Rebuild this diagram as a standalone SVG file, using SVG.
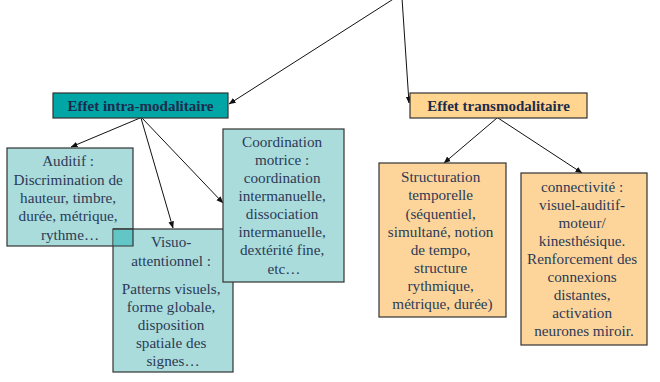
<svg xmlns="http://www.w3.org/2000/svg" width="660" height="382" viewBox="0 0 660 382">
  <defs>
    <marker id="arrow" viewBox="0 0 8 8" refX="7.5" refY="4" markerWidth="7" markerHeight="7" markerUnits="userSpaceOnUse" orient="auto">
      <path d="M0,0.8 L8,4 L0,7.2 Z" fill="#111"/>
    </marker>
  </defs>
  <style>
    .hdr-teal { fill: #00a5a6; stroke: #333; stroke-width: 1.2; }
    .hdr-orange { fill: #ffd590; stroke: #333; stroke-width: 1.2; }
    .box-teal { fill: #aadcdc; stroke: #333; stroke-width: 1.2; }
    .box-orange { fill: #fdd59a; stroke: #333; stroke-width: 1.2; }
    .hdr-text { font-family: "Liberation Serif", "Times New Roman", serif; font-weight: bold; font-size: 15px; fill: #1d2b4c; text-anchor: middle; }
    .body-text { font-family: "Liberation Serif", "Times New Roman", serif; font-size: 15.2px; fill: #2c3a56; text-anchor: middle; }
    .conn { stroke: #111; stroke-width: 1; fill: none; marker-end: url(#arrow); }
  </style>

  <!-- connectors -->
  <g id="connectors">
    <line class="conn" x1="395" y1="-2" x2="229" y2="104"/>
    <line class="conn" x1="402" y1="-2" x2="409" y2="103"/>
    <line class="conn" x1="140" y1="118" x2="71" y2="147"/>
    <line class="conn" x1="141" y1="118" x2="173" y2="228"/>
    <line class="conn" x1="142" y1="118" x2="223" y2="203"/>
    <line class="conn" x1="497" y1="118" x2="444" y2="163"/>
    <line class="conn" x1="498" y1="118" x2="582" y2="173"/>
  </g>

  <!-- header nodes -->
  <g id="intra">
    <rect class="hdr-teal" x="53" y="93" width="175" height="25"/>
    <text class="hdr-text" x="140.5" y="110.5">Effet intra-modalitaire</text>
  </g>
  <g id="trans">
    <rect class="hdr-orange" x="410" y="93" width="177" height="25"/>
    <text class="hdr-text" x="498.5" y="110.5">Effet transmodalitaire</text>
  </g>

  <!-- intra-modal branches -->
  <g id="auditif">
    <rect class="box-teal" x="7" y="148" width="126" height="98"/>
    <text class="body-text" x="70">
      <tspan x="70" y="166">Auditif :</tspan>
      <tspan x="70" y="185">Discrimination de</tspan>
      <tspan x="70" y="203">hauteur, timbre,</tspan>
      <tspan x="70" y="221">durée, métrique,</tspan>
      <tspan x="70" y="240">rythme…</tspan>
    </text>
  </g>

  <g id="visuo">
    <rect class="box-teal" x="113" y="229" width="120" height="143"/>
    <!-- darker area where the two boxes overlap, with the hidden borders showing through -->
    <rect x="113.6" y="229.6" width="19.4" height="16.4" fill="#62c6c6"/>
    <polyline points="133,229 133,246 113,246" fill="none" stroke="#333" stroke-width="1.2"/>
    <line x1="113" y1="229" x2="133" y2="229" stroke="#333" stroke-width="1.2"/>
    <text class="body-text">
      <tspan x="173" y="247">Visuo-</tspan>
      <tspan x="173" y="266">attentionnel :</tspan>
      <tspan x="173" y="294">Patterns visuels,</tspan>
      <tspan x="173" y="312">forme globale,</tspan>
      <tspan x="173" y="330">disposition</tspan>
      <tspan x="173" y="348">spatiale des</tspan>
      <tspan x="173" y="366">signes…</tspan>
    </text>
  </g>

  <g id="coordination">
    <rect class="box-teal" x="223" y="129" width="121" height="153"/>
    <text class="body-text">
      <tspan x="284" y="147">Coordination</tspan>
      <tspan x="284" y="165">motrice :</tspan>
      <tspan x="284" y="183">coordination</tspan>
      <tspan x="284" y="201">intermanuelle,</tspan>
      <tspan x="284" y="219">dissociation</tspan>
      <tspan x="284" y="237">intermanuelle,</tspan>
      <tspan x="284" y="255">dextérité fine,</tspan>
      <tspan x="284" y="274">etc…</tspan>
    </text>
  </g>

  <!-- cross-modal branches -->
  <g id="structuration">
    <rect class="box-orange" x="379" y="163" width="127" height="154"/>
    <text class="body-text">
      <tspan x="442.5" y="182">Structuration</tspan>
      <tspan x="442.5" y="200">temporelle</tspan>
      <tspan x="442.5" y="219">(séquentiel,</tspan>
      <tspan x="442.5" y="237">simultané, notion</tspan>
      <tspan x="442.5" y="255">de tempo,</tspan>
      <tspan x="442.5" y="273">structure</tspan>
      <tspan x="442.5" y="291">rythmique,</tspan>
      <tspan x="442.5" y="309">métrique, durée)</tspan>
    </text>
  </g>

  <g id="connectivite">
    <rect class="box-orange" x="521" y="173" width="126" height="172"/>
    <text class="body-text">
      <tspan x="584" y="192">connectivité :</tspan>
      <tspan x="584" y="210">visuel-auditif-</tspan>
      <tspan x="584" y="228">moteur/</tspan>
      <tspan x="584" y="246">kinesthésique.</tspan>
      <tspan x="584" y="264">Renforcement des</tspan>
      <tspan x="584" y="282">connexions</tspan>
      <tspan x="584" y="300">distantes,</tspan>
      <tspan x="584" y="318">activation</tspan>
      <tspan x="584" y="336">neurones miroir.</tspan>
    </text>
  </g>
</svg>
